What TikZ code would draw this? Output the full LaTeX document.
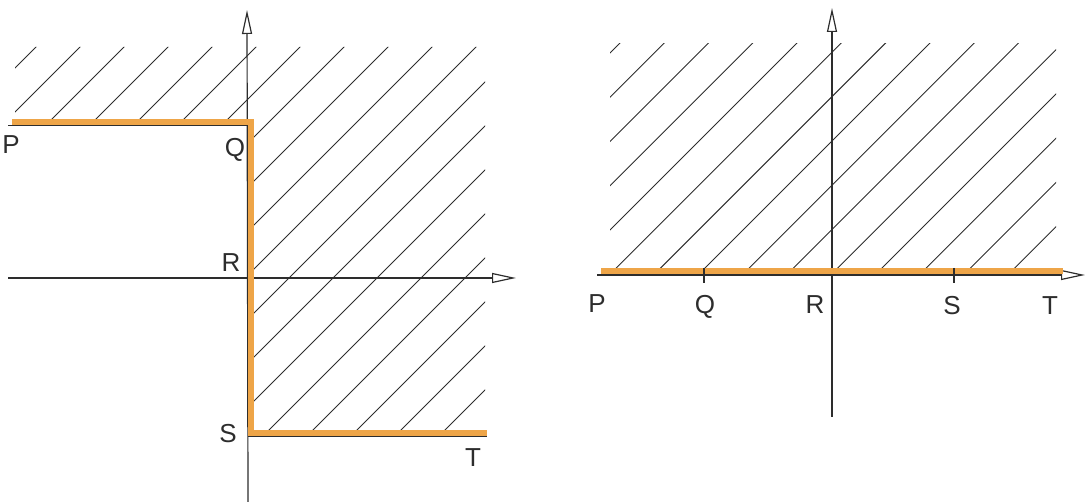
\documentclass[tikz,border=0pt]{standalone}
\usepackage{fontspec}
\setmainfont{Liberation Sans}
\usetikzlibrary{arrows.meta}
\definecolor{hl}{RGB}{238,165,72}
\definecolor{ink}{RGB}{45,45,45}
\begin{document}
\begin{tikzpicture}[x=0.5pt,y=-0.5pt,
  axis/.style={ink, line width=0.6pt, -{Triangle[open,length=12pt,width=5pt,line width=0.6pt]}},
  hatchline/.style={ink, line width=0.45pt},
  edge/.style={ink, line width=0.5pt},
  route/.style={hl, line width=3pt},
  tick/.style={ink, line width=0.6pt},
  lab/.style={ink, font=\fontsize{13}{13}\selectfont, inner sep=0pt}]
\useasboundingbox (0,0) rectangle (1088,502);

% ===== left diagram =====
\coordinate (Lx0) at (8,278);
\coordinate (Lx1) at (516,278);
\coordinate (Ly0) at (248,502);
\coordinate (Ly1) at (247,10);
\begin{scope}
  \clip (15,47) rectangle (248,125) (248,47) rectangle (485,436);
  \foreach \k in {0,...,18}
    \draw[hatchline] ({83+44*\k-500},500) -- ({83+44*\k},0);
\end{scope}
\coordinate (Le1) at (8,126);
\coordinate (Le2) at (248,126);
\coordinate (Le3) at (248,437);
\coordinate (Le4) at (487,437);
\draw[edge] (Le1) -- (Le2);
\draw[edge] (Le3) -- (Le4);
\draw[axis] (Lx0) -- (Lx1);
\draw[axis] (Ly0) -- (Ly1);

\coordinate (LP) at (12,122);
\coordinate (LQ) at (251,122);
\coordinate (LS) at (251,433);
\coordinate (LT) at (487,433);
\draw[route, line join=miter] (LP) -- (LQ) -- (LS) -- (LT);

\node[lab] (lP) at (11,145) {P};
\node[lab] (lQ) at (235,150) {Q};
\node[lab] (lR) at (231,263) {R};
\node[lab] (lS) at (228,434) {S};
\node[lab] (lT) at (473,458) {T};

% ===== right diagram =====
\coordinate (Rx0) at (597,275);
\coordinate (Rx1) at (1085,275);
\coordinate (Ry0) at (832,417);
\coordinate (Ry1) at (832,8);
\begin{scope}
  \clip (610,44) rectangle (1056,273);
  \foreach \k in {0,...,15}
    \draw[hatchline] ({663+44.27*\k-500},500) -- ({663+44.27*\k},0);
\end{scope}
\draw[axis] (Rx0) -- (Rx1);
\draw[axis] (Ry0) -- (Ry1);

\coordinate (RP) at (601,271);
\coordinate (RT) at (1063,271);
\draw[route] (RP) -- (RT);

\coordinate (tQa) at (704,268); \coordinate (tQb) at (704,283);
\coordinate (tSa) at (954,268); \coordinate (tSb) at (954,283);
\draw[tick] (tQa) -- (tQb);
\draw[tick] (tSa) -- (tSb);

\node[lab] (rP) at (597,304) {P};
\node[lab] (rQ) at (705,307) {Q};
\node[lab] (rR) at (815,305) {R};
\node[lab] (rS) at (952,306) {S};
\node[lab] (rT) at (1050,306) {T};
\end{tikzpicture}
\end{document}
